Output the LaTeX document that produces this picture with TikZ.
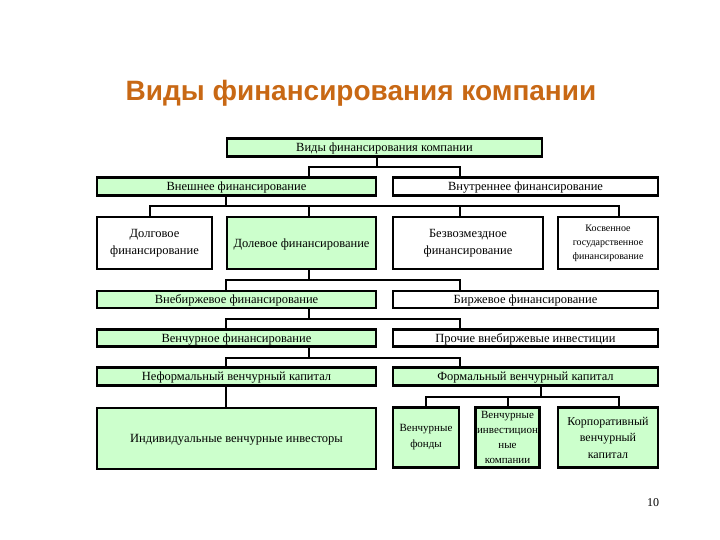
\documentclass[tikz,border=0pt]{standalone}
\usepackage{fontspec}
\setmainfont{Liberation Serif}
\newfontfamily\titlefont{Liberation Sans}
\definecolor{boxgreen}{RGB}{204,255,204}
\definecolor{titleorange}{RGB}{200,104,20}
\begin{document}
\begin{tikzpicture}[
        x                       = 1pt,
        y                       = -1pt,
        box/.style              = {draw, line width=2.2pt, inner sep=0pt, align=center,
                                   font=\fontsize{12.5}{17}\selectfont},
        greenbox/.style         = {box, fill=boxgreen},
        whitebox/.style         = {box, fill=white},
        oneline/.style          = {text depth=0pt},
        link/.style             = {draw, line width=2pt},
      ]
    \useasboundingbox (0,0) rectangle (720,540);
    % title
    \node[font=\titlefont\bfseries\fontsize{28}{32}\selectfont, text=titleorange] (title) at (361,93) {Виды финансирования компании};
    % level 1
    \node[greenbox, oneline, minimum width=315, minimum height=18] (vidy) at (384.5,147.5) {Виды финансирования компании};
    % level 2
    \node[greenbox, oneline, minimum width=279, minimum height=18] (vnesh) at (236.5,186.5) {Внешнее финансирование};
    \node[whitebox, oneline, minimum width=265, minimum height=18] (vnutr) at (525.5,186.5) {Внутреннее финансирование};
    % level 3
    \node[whitebox, minimum width=115, minimum height=52] (dolg) at (154.5,243) {Долговое\\финансирование};
    \node[greenbox, oneline, minimum width=149, minimum height=52] (dolev) at (301.5,243) {Долевое финансирование};
    \node[whitebox, minimum width=150, minimum height=52] (bezv) at (468,243) {Безвозмездное\\финансирование};
    \node[whitebox, minimum width=100, minimum height=52, font=\fontsize{10}{14}\selectfont] (kosv) at (608,243) {Косвенное\\государственное\\финансирование};
    % level 4
    \node[greenbox, oneline, minimum width=279, minimum height=17] (vnebirzh) at (236.5,299.5) {Внебиржевое финансирование};
    \node[whitebox, oneline, minimum width=265, minimum height=17] (birzh) at (525.5,299.5) {Биржевое финансирование};
    % level 5
    \node[greenbox, oneline, minimum width=279, minimum height=17] (venchur) at (236.5,338) {Венчурное финансирование};
    \node[whitebox, oneline, minimum width=265, minimum height=17] (prochie) at (525.5,338) {Прочие внебиржевые инвестиции};
    % level 6
    \node[greenbox, oneline, minimum width=279, minimum height=18] (neform) at (236.5,376.5) {Неформальный венчурный капитал};
    \node[greenbox, oneline, minimum width=265, minimum height=18] (form) at (525.5,376.5) {Формальный венчурный капитал};
    % level 7
    \node[greenbox, oneline, minimum width=279, minimum height=61] (indiv) at (236.5,438.5) {Индивидуальные венчурные инвесторы};
    \node[greenbox, minimum width=66, minimum height=60, font=\fontsize{11}{16}\selectfont] (fondy) at (426,437.5) {Венчурные\\фонды};
    \node[greenbox, minimum width=64, minimum height=60, font=\fontsize{11}{15}\selectfont] (invest) at (507.5,437.5) {Венчурные\\инвестицион\\ные\\компании};
    \node[greenbox, minimum width=100, minimum height=60, font=\fontsize{12}{16.5}\selectfont] (korp) at (608,437.5) {Корпоративный\\венчурный\\капитал};
    % page number
    \node[font=\fontsize{12}{14}\selectfont] (page) at (653,503) {10};

    % junctions
    \coordinate (j1a) at (309,167);  \coordinate (j1b) at (460,167);
    \coordinate (j2a) at (150,206);  \coordinate (j2b) at (619,206);
    \coordinate (j3a) at (226,280);  \coordinate (j3b) at (460,280);
    \coordinate (j4a) at (226,319);  \coordinate (j4b) at (460,319);
    \coordinate (j5a) at (226,358);  \coordinate (j5b) at (460,358);
    \coordinate (j6a) at (426,397);  \coordinate (j6b) at (619,397);

    % connectors
    \draw[link] (vidy.south -| vnesh.east) -- (j1a -| vnesh.east);
    \draw[link] (vnesh.north -| j1a) -- (j1a) -- (j1b) -- (vnutr.north -| j1b);

    \draw[link] (vnesh.south -| dolev.west) -- (j2a -| dolev.west);
    \draw[link] (dolg.north -| j2a) -- (j2a) -- (j2b) -- (kosv.north -| j2b);
    \draw[link] (dolev.north -| j1a) -- (j2a -| j1a);
    \draw[link] (bezv.north -| j1b) -- (j2a -| j1b);

    \draw[link] (dolev.south -| j1a) -- (j3a -| j1a);
    \draw[link] (vnebirzh.north -| j3a) -- (j3a) -- (j3b) -- (birzh.north -| j3b);

    \draw[link] (vnebirzh.south -| j1a) -- (j4a -| j1a);
    \draw[link] (venchur.north -| j4a) -- (j4a) -- (j4b) -- (prochie.north -| j4b);

    \draw[link] (venchur.south -| j1a) -- (j5a -| j1a);
    \draw[link] (neform.north -| j5a) -- (j5a) -- (j5b) -- (form.north -| j5b);

    \draw[link] (neform.south -| j5a) -- (indiv.north -| j5a);

    \draw[link] (form.south -| invest.east) -- (j6a -| invest.east);
    \draw[link] (fondy.north -| j6a) -- (j6a) -- (j6b) -- (korp.north -| j6b);
    \draw[link] (invest.north) -- (invest.north |- j6a);
\end{tikzpicture}
\end{document}
